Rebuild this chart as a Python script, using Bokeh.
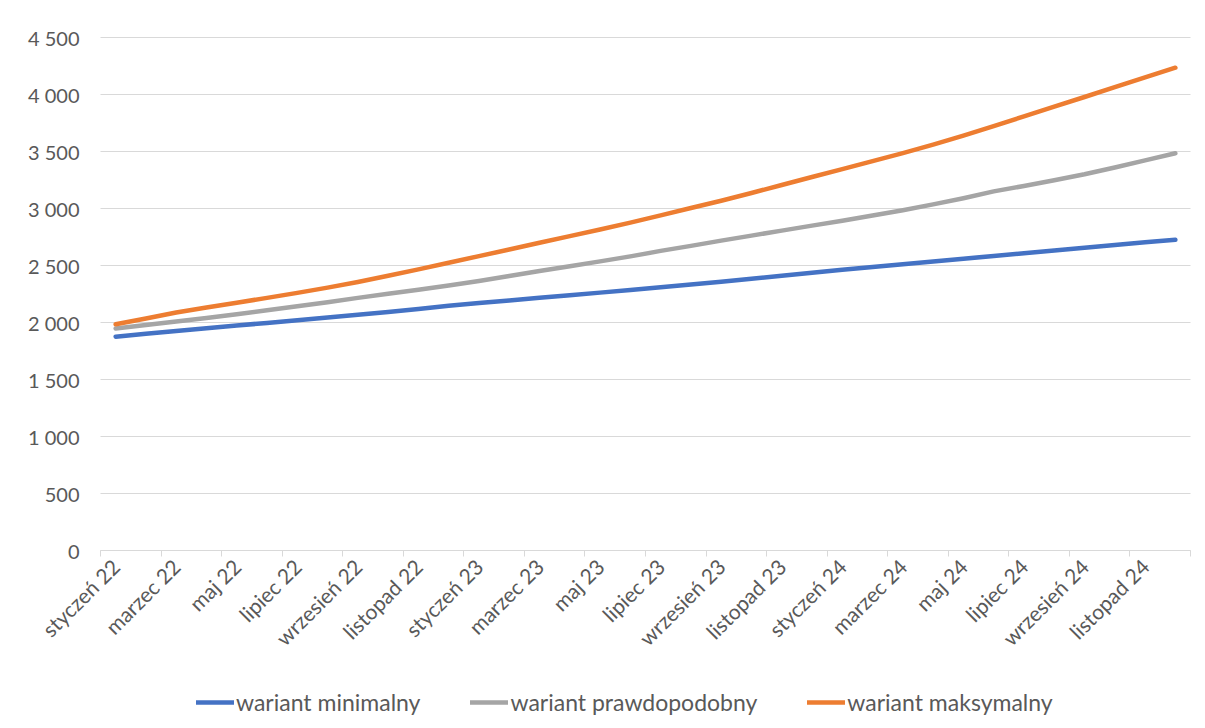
import math
from bokeh.plotting import figure
from bokeh.models import FixedTicker, Legend, LegendItem, Range1d, Grid
from bokeh.embed import file_html
from bokeh.resources import INLINE

months = [
    "styczeń 22", "luty 22", "marzec 22", "kwiecień 22", "maj 22", "czerwiec 22",
    "lipiec 22", "sierpień 22", "wrzesień 22", "październik 22", "listopad 22", "grudzień 22",
    "styczeń 23", "luty 23", "marzec 23", "kwiecień 23", "maj 23", "czerwiec 23",
    "lipiec 23", "sierpień 23", "wrzesień 23", "październik 23", "listopad 23", "grudzień 23",
    "styczeń 24", "luty 24", "marzec 24", "kwiecień 24", "maj 24", "czerwiec 24",
    "lipiec 24", "sierpień 24", "wrzesień 24", "październik 24", "listopad 24", "grudzień 24",
]

wariant_minimalny = [
    1876, 1901, 1925, 1950, 1974, 1996, 2020, 2043, 2067, 2092, 2118, 2146,
    2172, 2194, 2217, 2240, 2262, 2285, 2309, 2333, 2358, 2384, 2411, 2437,
    2462, 2486, 2511, 2535, 2560, 2584, 2608, 2632, 2656, 2680, 2703, 2726,
]
wariant_prawdopodobny = [
    1947, 1978, 2008, 2040, 2072, 2108, 2142, 2178, 2216, 2252, 2288, 2324,
    2364, 2408, 2452, 2494, 2536, 2580, 2628, 2672, 2718, 2762, 2806, 2850,
    2892, 2938, 2984, 3036, 3090, 3150, 3198, 3248, 3300, 3360, 3422, 3485,
]
wariant_maksymalny = [
    1985, 2035, 2088, 2132, 2174, 2216, 2260, 2306, 2356, 2410, 2466, 2524,
    2582, 2640, 2700, 2758, 2816, 2876, 2940, 3004, 3068, 3136, 3206, 3276,
    3346, 3416, 3486, 3560, 3640, 3722, 3808, 3894, 3978, 4064, 4150, 4235,
]

y_ticks = [0, 500, 1000, 1500, 2000, 2500, 3000, 3500, 4000, 4500]
y_tick_labels = ["0", "500", "1 000", "1 500", "2 000", "2 500", "3 000", "3 500", "4 000", "4 500"]

series_names = ["wariant minimalny", "wariant prawdopodobny", "wariant maksymalny"]
series_colors = ["#4472C4", "#A5A5A5", "#ED7D31"]

FONT = "Lato"
TEXT_COLOR = "#595959"
GRID_COLOR = "#D9D9D9"

x = list(range(len(months)))

# Layout in pixels: plot area 100..1190 (x) and 37..550 (y) of a 1205x728 canvas.
W, H = 1205, 728
AREA_L, AREA_R, AREA_T, AREA_B = 100, 1190, 37, 550
X0, X1 = -0.5, len(months) - 0.5
Y0, Y1 = 0, 4500
px_x = (AREA_R - AREA_L) / (X1 - X0)
px_y = (AREA_B - AREA_T) / (Y1 - Y0)

p = figure(
    frame_width=W, frame_height=H,
    min_border_left=0, min_border_right=0, min_border_top=0, min_border_bottom=0,
    x_range=Range1d(X0 - AREA_L / px_x, X1 + (W - AREA_R) / px_x),
    y_range=Range1d(Y0 - (H - AREA_B) / px_y, Y1 + AREA_T / px_y),
    output_backend="svg", toolbar_location=None,
)
p.outline_line_color = None
p.background_fill_color = "white"
p.border_fill_color = "white"

# Y axis pinned at the left edge of the plot area
p.yaxis.fixed_location = X0
p.yaxis.ticker = FixedTicker(ticks=y_ticks)
p.yaxis.major_label_overrides = {t: l for t, l in zip(y_ticks, y_tick_labels)}
p.yaxis.axis_line_color = None
p.yaxis.major_tick_line_color = None
p.yaxis.minor_tick_line_color = None
p.yaxis.major_label_standoff = 15
p.yaxis.major_label_text_font = FONT
p.yaxis.major_label_text_font_size = "20px"
p.yaxis.major_label_text_color = TEXT_COLOR

# X axis pinned at value 0
even = [i for i in x if i % 2 == 0]
boundaries = [i - 0.5 for i in even] + [X1]
p.xaxis.fixed_location = Y0
p.xaxis.bounds = (X0, X1)
p.xaxis.ticker = FixedTicker(ticks=even, minor_ticks=boundaries)
p.xaxis.major_label_overrides = {i: months[i] for i in even}
p.xaxis.major_label_orientation = math.pi / 4
p.xaxis.axis_line_color = GRID_COLOR
p.xaxis.major_tick_line_color = None
p.xaxis.minor_tick_line_color = GRID_COLOR
p.xaxis.minor_tick_out = 6
p.xaxis.minor_tick_in = 0
p.xaxis.major_label_standoff = 6
p.xaxis.major_label_text_font = FONT
p.xaxis.major_label_text_font_size = "21px"
p.xaxis.major_label_text_color = TEXT_COLOR

p.xgrid.grid_line_color = None
if "cross_bounds" in Grid.properties():
    p.ygrid.ticker = FixedTicker(ticks=y_ticks)
    p.ygrid.grid_line_color = GRID_COLOR
    p.ygrid.grid_line_width = 1
    p.ygrid.cross_bounds = (X0, X1)
else:
    p.ygrid.grid_line_color = None
    p.segment(x0=[X0] * len(y_ticks), x1=[X1] * len(y_ticks), y0=y_ticks, y1=y_ticks,
              line_color=GRID_COLOR, line_width=1)

items = []
for name, ys, col in zip(series_names,
                         [wariant_minimalny, wariant_prawdopodobny, wariant_maksymalny],
                         series_colors):
    r = p.line(x, ys, line_color=col, line_width=4.5, line_cap="round", line_join="round")
    items.append(LegendItem(label=name, renderers=[r]))

legend = Legend(items=items, orientation="horizontal", location=(196, 12))
legend.label_text_font = FONT
legend.label_text_font_size = "23px"
legend.label_text_color = TEXT_COLOR
legend.border_line_color = None
legend.background_fill_alpha = 0
legend.glyph_width = 38
legend.label_standoff = 2
legend.spacing = 50
legend.margin = 0
legend.padding = 2
p.add_layout(legend, "center")

open("out.html", "w").write(file_html(p, INLINE))
